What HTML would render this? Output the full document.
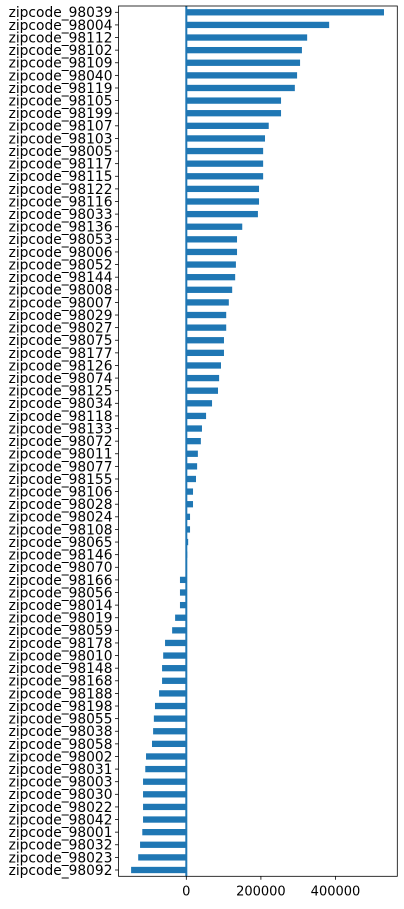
<!DOCTYPE html>
<html><head><meta charset="utf-8"><style>
body{margin:0;background:#fff;}
svg{display:block;font-family:"DejaVu Sans","Liberation Sans",sans-serif;}
</style></head><body>
<svg id="chart" width="404" height="909"></svg>
<script>
const categories=["98039","98004","98112","98102","98109","98040","98119","98105","98199","98107","98103","98005","98117","98115","98122","98116","98033","98136","98053","98006","98052","98144","98008","98007","98029","98027","98075","98177","98126","98074","98125","98034","98118","98133","98072","98011","98077","98155","98106","98028","98024","98108","98065","98146","98070","98166","98056","98014","98019","98059","98178","98010","98148","98168","98188","98198","98055","98038","98058","98002","98031","98003","98030","98022","98042","98001","98032","98023","98092"];
const values=[530000,383000,324000,310000,305000,297000,291000,254000,254000,221000,211000,206000,206000,206000,195000,195000,192000,150000,136000,136000,133000,131000,123000,114000,107000,107000,101000,101000,93000,88000,85000,69000,53000,42000,39000,31000,29000,26000,18000,18000,10000,10000,5000,2500,0,-17000,-17000,-17000,-30000,-38000,-57000,-62000,-65000,-65000,-73000,-84000,-87000,-89000,-92000,-108000,-110000,-116000,-116000,-116000,-116000,-118000,-124000,-129000,-148000];
const xTicks=[0,200000,400000];
const xTickLabels=["0","200000","400000"];
const NS="http://www.w3.org/2000/svg";
const svg=document.getElementById('chart');
const L=118.5,R=397.3,T=6,B=876.3,xMin=-181800,xMax=565700;
const x=v=>L+(v-xMin)/(xMax-xMin)*(R-L);
const step=(B-T)/categories.length;
const y=i=>T+step*(i+0.5);
function mk(t,a){const e=document.createElementNS(NS,t);for(const k in a)e.setAttribute(k,a[k]);svg.appendChild(e);return e;}
values.forEach((v,i)=>{
  const r=mk('rect',{x:Math.min(x(0),x(v)),y:y(i)-step*0.25,width:Math.abs(x(v)-x(0)),height:step*0.5,fill:'#1f77b4'});
  
  
  const tk=mk('line',{x1:L-3.5,x2:L,y1:y(i),y2:y(i),stroke:'#000','stroke-width':0.8});
  
  
  const t=mk('text',{x:L-6,y:y(i)+4.9,'text-anchor':'end','font-size':13.8,fill:'#000'});
  t.textContent='zipcode_'+categories[i];
  
  
});
const zl=mk('line',{x1:x(0),x2:x(0),y1:T,y2:B,stroke:'#1f77b4','stroke-width':2});


const fr=mk('rect',{x:L,y:T,width:R-L,height:B-T,fill:'none',stroke:'#000','stroke-width':0.8});


xTicks.forEach((v,i)=>{
  const tk=mk('line',{x1:x(v),x2:x(v),y1:B,y2:B+3.5,stroke:'#000','stroke-width':0.8});
  
  
  const t=mk('text',{x:x(v),y:B+19,'text-anchor':'middle','font-size':13,fill:'#000'});
  t.textContent=xTickLabels[i];
  
  
});
</script>
</body></html>
